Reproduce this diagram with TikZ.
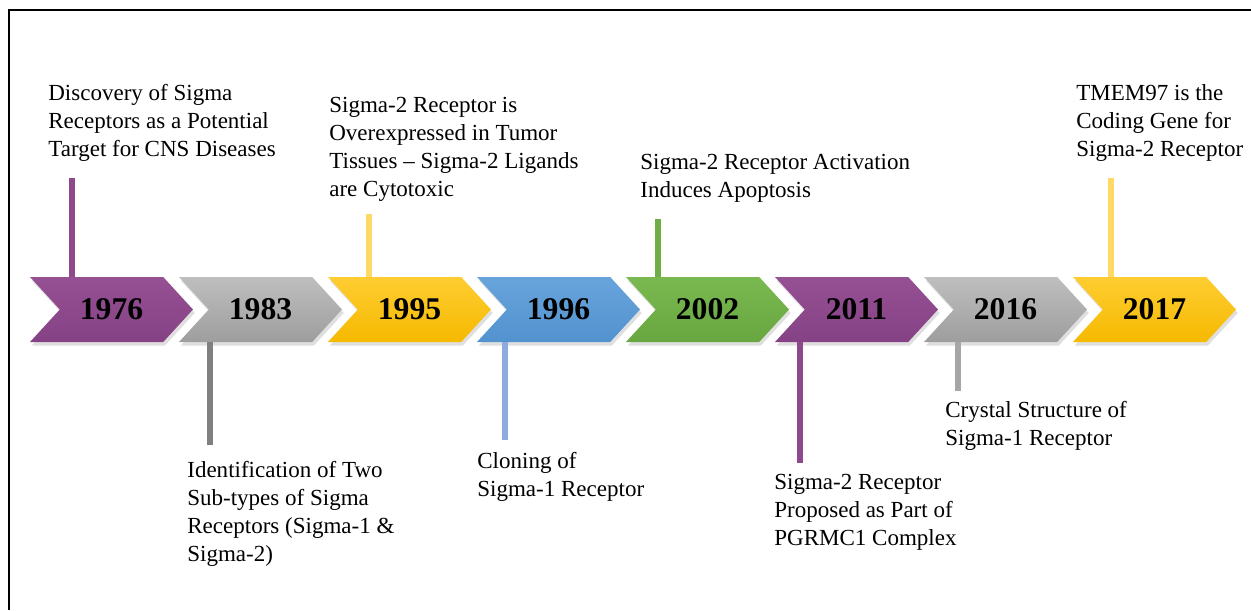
\documentclass[tikz,border=0pt]{standalone}
\usepackage{fontspec}
\setmainfont{Liberation Serif}
\usetikzlibrary{shapes.symbols,shadows}

\definecolor{plum}{RGB}{142,72,140}
\definecolor{plumtop}{RGB}{150,80,148}
\definecolor{plumbot}{RGB}{132,66,132}
\definecolor{greytop}{RGB}{190,190,190}
\definecolor{greybot}{RGB}{158,158,158}
\definecolor{goldtop}{RGB}{255,205,50}
\definecolor{goldbot}{RGB}{245,185,0}
\definecolor{skytop}{RGB}{104,164,220}
\definecolor{skybot}{RGB}{82,146,206}
\definecolor{leaftop}{RGB}{122,184,80}
\definecolor{leafbot}{RGB}{104,166,64}
\definecolor{stemgrey}{RGB}{128,128,128}
\definecolor{stemlight}{RGB}{166,166,166}
\definecolor{stemgold}{RGB}{255,217,102}
\definecolor{stemsky}{RGB}{143,170,220}
\definecolor{stemleaf}{RGB}{112,173,71}

\tikzset{
  year/.style={signal, signal to=east, signal from=west, signal pointer angle=95,
    minimum width=3.26cm, minimum height=1.3cm, inner sep=0pt,
    font=\fontsize{18}{20}\selectfont\bfseries,
    drop shadow={opacity=0.25, shadow xshift=1pt, shadow yshift=-2pt}},
  event/.style={anchor=north west, inner sep=0pt, align=left,
    font=\fontsize{13.1}{15.9}\selectfont},
  stem/.style={line width=3.6pt}
}

\begin{document}
\begin{tikzpicture}[x=0.02cm, y=-0.02cm]
  \useasboundingbox (0,0) rectangle (1251,610);
  \draw[line width=0.8pt] (9,610) -- (9,10) -- (1251,10);

  \node[year, top color=plumtop, bottom color=plumbot] (y1976) at (111.5,309.5) {1976};
  \node[year, top color=greytop, bottom color=greybot] (y1983) at (260.5,309.5) {1983};
  \node[year, top color=goldtop, bottom color=goldbot] (y1995) at (409.5,309.5) {1995};
  \node[year, top color=skytop, bottom color=skybot] (y1996) at (558.5,309.5) {1996};
  \node[year, top color=leaftop, bottom color=leafbot] (y2002) at (707.5,309.5) {2002};
  \node[year, top color=plumtop, bottom color=plumbot] (y2011) at (856.5,309.5) {2011};
  \node[year, top color=greytop, bottom color=greybot] (y2016) at (1005.5,309.5) {2016};
  \node[year, top color=goldtop, bottom color=goldbot] (y2017) at (1154.5,309.5) {2017};

  \node[event] (e1976) at (48,84) {Discovery of Sigma\\Receptors as a Potential\\Target for CNS Diseases};
  \node[event] (e1995) at (329,97) {Sigma-2 Receptor is\\Overexpressed in Tumor\\Tissues -- Sigma-2 Ligands\\are Cytotoxic};
  \node[event] (e2002) at (640,154) {Sigma-2 Receptor Activation\\Induces Apoptosis};
  \node[event] (e2017) at (1076,84) {TMEM97 is the\\Coding Gene for\\Sigma-2 Receptor};
  \node[event] (e1983) at (187,461) {Identification of Two\\Sub-types of Sigma\\Receptors (Sigma-1 \&\\Sigma-2)};
  \node[event] (e1996) at (477,452) {Cloning of\\Sigma-1 Receptor};
  \node[event] (e2011) at (774,474) {Sigma-2 Receptor\\Proposed as Part of\\PGRMC1 Complex};
  \node[event] (e2016) at (945,401) {Crystal Structure of\\Sigma-1 Receptor};

  \coordinate (s1976) at (72,178);
  \coordinate (s1995) at (369,214);
  \coordinate (s2002) at (658,219);
  \coordinate (s2017) at (1111,178);
  \coordinate (s1983) at (210,445);
  \coordinate (s1996) at (505,440);
  \coordinate (s2011) at (800,463);
  \coordinate (s2016) at (958,391);

  \draw[stem, plum] (s1976) -- (s1976 |- y1976.north);
  \draw[stem, stemgold] (s1995) -- (s1995 |- y1995.north);
  \draw[stem, stemleaf] (s2002) -- (s2002 |- y2002.north);
  \draw[stem, stemgold] (s2017) -- (s2017 |- y2017.north);
  \draw[stem, stemgrey] (y1983.south -| s1983) -- (s1983);
  \draw[stem, stemsky] (y1996.south -| s1996) -- (s1996);
  \draw[stem, plum] (y2011.south -| s2011) -- (s2011);
  \draw[stem, stemlight] (y2016.south -| s2016) -- (s2016);
\end{tikzpicture}
\end{document}
